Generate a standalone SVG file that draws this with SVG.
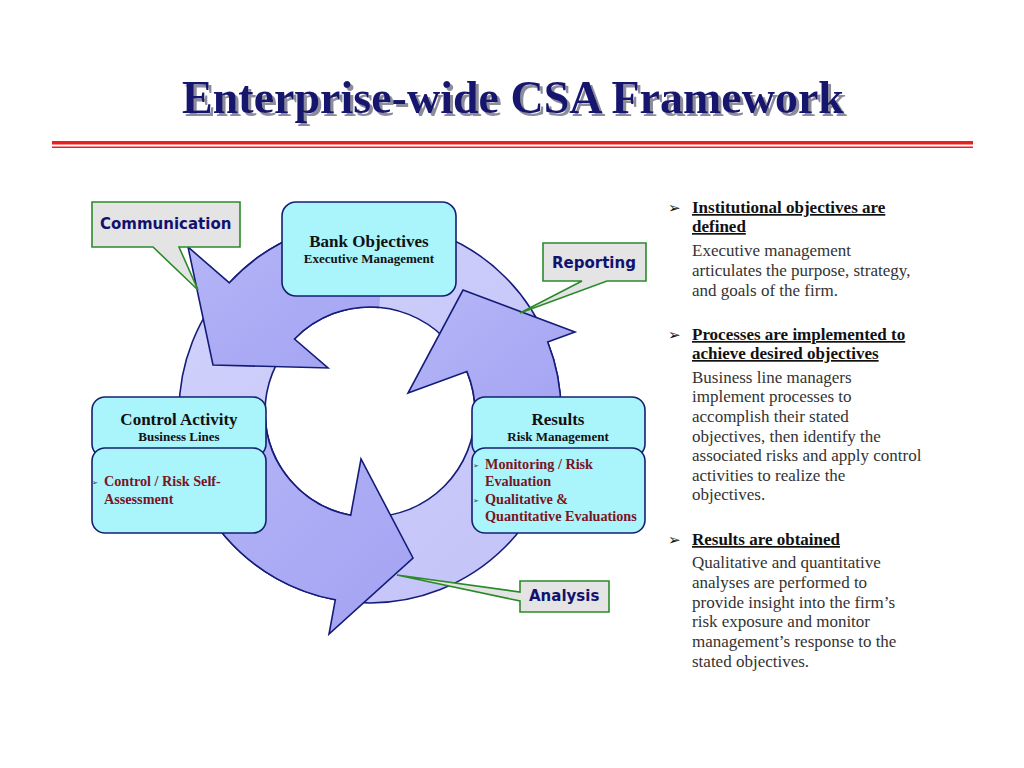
<svg xmlns="http://www.w3.org/2000/svg" width="1024" height="768" viewBox="0 0 1024 768">
<defs>
<linearGradient id="ringGrad" x1="0" y1="0" x2="1" y2="1">
<stop offset="0" stop-color="#d2d2fc"/>
<stop offset="1" stop-color="#c2c2f8"/>
</linearGradient>
<linearGradient id="arrGrad" x1="0" y1="0" x2="1" y2="1">
<stop offset="0" stop-color="#b6b6f8"/>
<stop offset="1" stop-color="#a2a2f2"/>
</linearGradient>
<filter id="shadow" x="-5%" y="-20%" width="110%" height="150%">
<feFlood flood-color="#8c8c9c" result="c"/>
<feComposite in="c" in2="SourceAlpha" operator="in" result="s"/>
<feOffset in="s" dx="2.5" dy="2.5" result="so"/>
<feMerge><feMergeNode in="so"/><feMergeNode in="SourceGraphic"/></feMerge>
</filter>
<style>
.ring{fill:url(#ringGrad);stroke:#141c78;stroke-width:1.6;fill-rule:evenodd}
.afill{fill:url(#arrGrad);stroke:none}
.aline{fill:none;stroke:#141c78;stroke-width:1.6;stroke-linejoin:miter}
.box{fill:#aaf4fc;stroke:#142070;stroke-width:1.6}
.call{fill:#e4e4e4;stroke:#2a8a2a;stroke-width:1.6;stroke-linejoin:miter}
.ctext{font-family:"DejaVu Sans",Verdana,sans-serif;font-weight:bold;font-size:15px;fill:#12126e}
.h1{font-family:"Liberation Serif","Times New Roman",serif;font-weight:bold;font-size:17px;fill:#111;text-anchor:middle}
.h2{font-family:"Liberation Serif","Times New Roman",serif;font-weight:bold;font-size:13px;fill:#111;text-anchor:middle}
.red{font-family:"Liberation Serif","Times New Roman",serif;font-weight:bold;font-size:14.2px;fill:#7a1424}
.sb{font-family:"DejaVu Sans",sans-serif;font-size:7px;fill:#333}
.rh{font-family:"Liberation Serif","Times New Roman",serif;font-weight:bold;font-size:17px;fill:#111;text-decoration:underline}
.rt{font-family:"Liberation Serif","Times New Roman",serif;font-size:17px;fill:#333}
.bul{font-family:"DejaVu Sans",sans-serif;font-size:15px;fill:#111}
.title{font-family:"Liberation Serif","Times New Roman",serif;font-weight:bold;font-size:46px;text-anchor:middle;fill:#16166e}
</style>
</defs>
<rect width="1024" height="768" fill="#ffffff"/>

<g id="title">
<text class="title" x="513" y="113" filter="url(#shadow)">Enterprise-wide CSA Framework</text>
<rect x="52" y="141" width="921" height="3.5" fill="#e82020"/>
<rect x="52" y="146.5" width="921" height="1.5" fill="#e82020"/>
</g>

<g id="connectors">
<path class="ring" d="M179,412 A191,191 0 1 0 561,412 A191,191 0 1 0 179,412 Z M265,412 A105,105 0 1 1 475,412 A105,105 0 1 1 265,412 Z"/>
<path class="afill" d="M386.7,221.7 A191,191 0 0 0 229.4,282.8 L188,247 L213,365 L328,368 L294.5,339 A105,105 0 0 1 379.2,307.4 Z"/>
<path class="aline" d="M386.7,221.7 A191,191 0 0 0 229.4,282.8 L188,247 L213,365 L328,368 L294.5,339 A105,105 0 0 1 379.2,307.4"/>
<path class="afill" d="M560.3,428.6 A191,191 0 0 0 547.7,342 L575,332 L463,290 L408,393 L466.9,371.5 A105,105 0 0 1 474.6,421.2 Z"/>
<path class="aline" d="M560.3,428.6 A191,191 0 0 0 547.7,342 L575,332 L463,290 L408,393 L466.9,371.5 A105,105 0 0 1 474.6,421.2"/>
<path class="afill" d="M179.1,418.7 A191,191 0 0 0 335.3,599.8 L329,634 L413,558 L361,459 L350.7,515.2 A105,105 0 0 1 265.1,415.7 Z"/>
<path class="aline" d="M179.1,418.7 A191,191 0 0 0 335.3,599.8 L329,634 L413,558 L361,459 L350.7,515.2 A105,105 0 0 1 265.1,415.7"/>
</g>

<g id="bank-objectives">
<rect class="box" x="282" y="202" width="174" height="94" rx="14"/>
<text class="h1" x="369" y="247">Bank Objectives</text>
<text class="h2" x="369" y="263">Executive Management</text>
</g>

<g id="control-activity">
<rect class="box" x="92" y="397" width="174" height="60" rx="13"/>
<text class="h1" x="179" y="425">Control Activity</text>
<text class="h2" x="179" y="441">Business Lines</text>
<rect class="box" x="92" y="448" width="174" height="85" rx="13"/>
<text class="sb" x="92" y="485">➢</text>
<text class="red" x="104" y="486">Control / Risk Self-</text>
<text class="red" x="104" y="504">Assessment</text>
</g>

<g id="results">
<rect class="box" x="472" y="397" width="173" height="60" rx="13"/>
<text class="h1" x="558" y="425">Results</text>
<text class="h2" x="558" y="441">Risk Management</text>
<rect class="box" x="472" y="448" width="173" height="85" rx="13"/>
<text class="sb" x="473" y="468">➢</text>
<text class="red" x="485" y="469">Monitoring / Risk</text>
<text class="red" x="485" y="486">Evaluation</text>
<text class="sb" x="473" y="503">➢</text>
<text class="red" x="485" y="504">Qualitative &amp;</text>
<text class="red" x="485" y="521">Quantitative Evaluations</text>
</g>

<g id="callout-communication">
<path class="call" d="M92,202 H240 V247 H179 L198,290 L153,247 H92 Z"/>
<text class="ctext" x="100" y="229">Communication</text>
</g>
<g id="callout-reporting">
<path class="call" d="M543,243 H646 V281 H607 L520,313 L582,281 H543 Z"/>
<text class="ctext" x="552" y="268">Reporting</text>
</g>
<g id="callout-analysis">
<path class="call" d="M520,581 H609 V612 H520 V601 L397,575 L520,592 Z"/>
<text class="ctext" x="529" y="601">Analysis</text>
</g>

<g id="description">
<text class="bul" x="668" y="213">➢</text>
<text class="rh" x="692" y="213">Institutional objectives are</text>
<text class="rh" x="692" y="232">defined</text>
<text class="rt" x="692" y="256">Executive management</text>
<text class="rt" x="692" y="276">articulates the purpose, strategy,</text>
<text class="rt" x="692" y="296">and goals of the firm.</text>
<text class="bul" x="668" y="340">➢</text>
<text class="rh" x="692" y="340">Processes are implemented to</text>
<text class="rh" x="692" y="359">achieve desired objectives</text>
<text class="rt" x="692" y="383">Business line managers</text>
<text class="rt" x="692" y="402">implement processes to</text>
<text class="rt" x="692" y="422">accomplish their stated</text>
<text class="rt" x="692" y="442">objectives, then identify the</text>
<text class="rt" x="692" y="461">associated risks and apply control</text>
<text class="rt" x="692" y="481">activities to realize the</text>
<text class="rt" x="692" y="500">objectives.</text>
<text class="bul" x="668" y="545">➢</text>
<text class="rh" x="692" y="545">Results are obtained</text>
<text class="rt" x="692" y="568">Qualitative and quantitative</text>
<text class="rt" x="692" y="588">analyses are performed to</text>
<text class="rt" x="692" y="608">provide insight into the firm’s</text>
<text class="rt" x="692" y="627">risk exposure and monitor</text>
<text class="rt" x="692" y="647">management’s response to the</text>
<text class="rt" x="692" y="667">stated objectives.</text>
</g>
</svg>
